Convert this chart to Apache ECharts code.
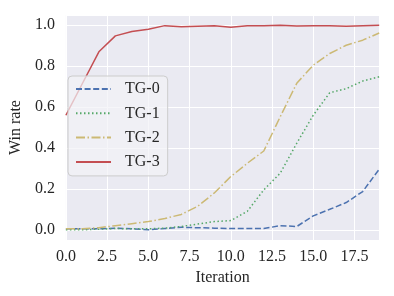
<!DOCTYPE html>
<html>
<head>
<meta charset="utf-8">
<script src="https://cdn.jsdelivr.net/npm/echarts@6/dist/echarts.min.js"></script>
<style>html,body{margin:0;padding:0;background:#fff;}#c{width:394px;height:296px;}</style>
</head>
<body>
<div id="c"></div>
<script>
var iterations = [0,1,2,3,4,5,6,7,8,9,10,11,12,13,14,15,16,17,18,19];
var seriesNames = ['TG-0','TG-1','TG-2','TG-3'];
var tg0 = [0.005,0.005,0.005,0.008,0.005,0.0,0.006,0.012,0.01,0.008,0.006,0.006,0.006,0.02,0.016,0.068,0.1,0.133,0.187,0.296];
var tg1 = [0.0,0.0,0.003,0.006,0.005,0.005,0.008,0.016,0.028,0.04,0.045,0.09,0.195,0.277,0.423,0.56,0.67,0.69,0.727,0.748];
var tg2 = [0.005,0.005,0.01,0.02,0.03,0.04,0.055,0.075,0.115,0.18,0.26,0.325,0.385,0.553,0.716,0.805,0.862,0.902,0.927,0.962];
var tg3 = [0.56,0.715,0.87,0.948,0.969,0.98,0.998,0.993,0.995,0.997,0.99,0.998,0.998,1.0,0.996,0.997,0.997,0.995,0.998,1.0];
var allValues = [tg0, tg1, tg2, tg3];
var colors = ['#4C72B0','#55A868','#CCB974','#C44E52'];
var dashes = [[6,2.6],[1.5,2.5],[9,2.5,1.5,2.5],'solid'];

var FONT = 'Liberation Serif';
var TXT = '#262626';

function pairs(vals){ return iterations.map(function(x,i){ return [x, vals[i]]; }); }

var chart = echarts.init(document.getElementById('c'), null, {renderer:'canvas'});
chart.setOption({
  animation: false,
  backgroundColor: '#ffffff',
  grid: {left: 62.8, right: 14.8, top: 15, bottom: 56, show: true, backgroundColor: '#EAEAF2', borderWidth: 0},
  xAxis: {
    type: 'value', min: 0, max: 19, interval: 2.5,
    name: 'Iteration', nameLocation: 'middle', nameGap: 26,
    nameTextStyle: {fontFamily: FONT, fontSize: 16, color: TXT},
    axisLine: {show: false}, axisTick: {show: false},
    axisLabel: {fontFamily: FONT, fontSize: 16, color: TXT, margin: 9, showMaxLabel: false,
      formatter: function(v){ return (Math.abs(v/2.5 - Math.round(v/2.5)) < 1e-6) ? v.toFixed(1) : ''; }},
    splitLine: {show: true, lineStyle: {color: '#ffffff', width: 1}}
  },
  yAxis: {
    type: 'value', min: -0.05, max: 1.05,
    name: 'Win rate', nameLocation: 'middle', nameGap: 33,
    nameTextStyle: {fontFamily: FONT, fontSize: 16, color: TXT},
    axisLine: {show: false}, axisTick: {show: false},
    axisLabel: {fontFamily: FONT, fontSize: 16, color: TXT, margin: 11,
      formatter: function(v){ return (Math.abs(v*5 - Math.round(v*5)) < 1e-6) ? v.toFixed(1) : ''; }},
    splitLine: {show: true, lineStyle: {color: '#ffffff', width: 1}}
  },
  legend: {
    orient: 'vertical', left: 68, top: 76,
    padding: [5, 8, 6, 7], itemGap: 8.3, itemWidth: 35, itemHeight: 14,
    backgroundColor: 'rgba(242,242,247,0.7)', borderColor: '#CCCCCC', borderWidth: 1, borderRadius: 4,
    itemStyle: {color: 'rgba(0,0,0,0)', borderColor: 'rgba(0,0,0,0)', borderWidth: 0, opacity: 0},
    textStyle: {fontFamily: FONT, fontSize: 16, color: TXT, lineHeight: 16, padding: [0, 0, 0, 9]},
    data: seriesNames
  },
  series: seriesNames.map(function(n, k){
    return {
      name: n, type: 'line', data: pairs(allValues[k]),
      symbol: 'none', showSymbol: false, clip: false,
      lineStyle: {color: colors[k], width: 1.5, type: dashes[k]},
      itemStyle: {color: colors[k]}
    };
  })
});
</script>
</body>
</html>
